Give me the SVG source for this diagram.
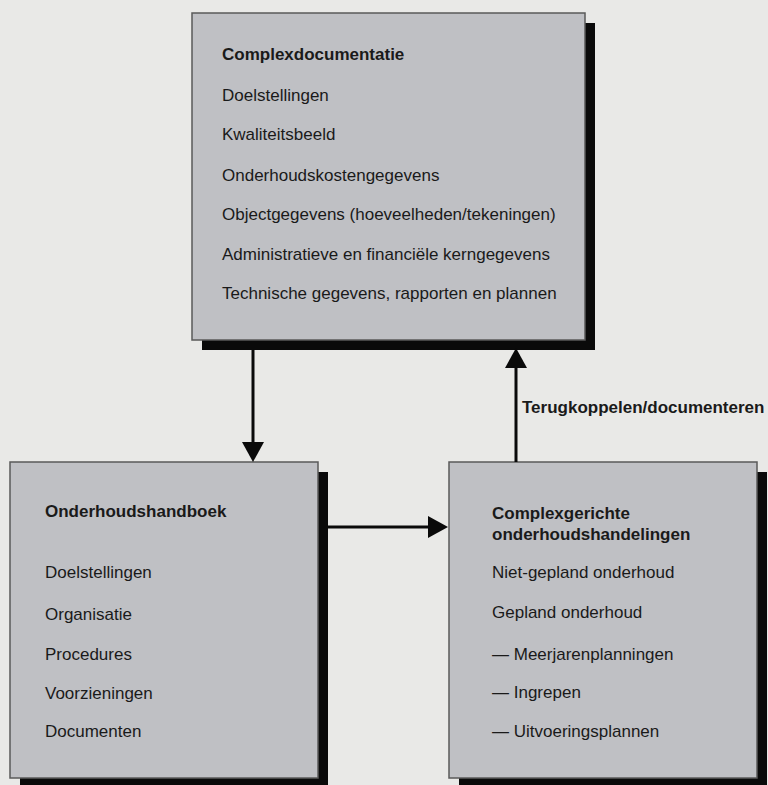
<svg xmlns="http://www.w3.org/2000/svg" width="768" height="785" viewBox="0 0 768 785">
<style>
.shadow{fill:#0a0a0a}
.box{fill:#bfc0c4;stroke:#5a5a5a;stroke-width:1.5}
text{font-family:"Liberation Sans",Arial,Helvetica,sans-serif;font-size:17px;fill:#1a1a1a}
.title{font-weight:bold}
.conn{stroke:#0a0a0a;stroke-width:3;fill:none;marker-end:url(#ah)}
</style>
<defs>
<marker id="ah" markerUnits="userSpaceOnUse" markerWidth="20" markerHeight="22" refX="8" refY="11" orient="auto">
<path d="M0,0 L20,11 L0,22 z" fill="#0a0a0a"/>
</marker>
</defs>
<rect x="0" y="0" width="768" height="785" fill="#e9e9e7"/>
<g id="complexdocumentatie">
<rect class="shadow" x="202" y="23" width="393" height="327"/>
<rect class="box" x="192" y="13" width="393" height="327"/>
<text class="title" x="222" y="60">Complexdocumentatie</text>
<text x="222" y="101">Doelstellingen</text>
<text x="222" y="140">Kwaliteitsbeeld</text>
<text x="222" y="181">Onderhoudskostengegevens</text>
<text x="222" y="220">Objectgegevens (hoeveelheden/tekeningen)</text>
<text x="222" y="260">Administratieve en financiële kerngegevens</text>
<text x="222" y="299">Technische gegevens, rapporten en plannen</text>
</g>
<g id="onderhoudshandboek">
<rect class="shadow" x="20" y="472" width="308" height="320"/>
<rect class="box" x="10" y="462" width="308" height="316"/>
<text class="title" x="45" y="517">Onderhoudshandboek</text>
<text x="45" y="578">Doelstellingen</text>
<text x="45" y="620">Organisatie</text>
<text x="45" y="660">Procedures</text>
<text x="45" y="699">Voorzieningen</text>
<text x="45" y="737">Documenten</text>
</g>
<g id="complexgerichte">
<rect class="shadow" x="459" y="472" width="308" height="320"/>
<rect class="box" x="449" y="462" width="308" height="316"/>
<text class="title" x="492" y="519">Complexgerichte</text>
<text class="title" x="492" y="540">onderhoudshandelingen</text>
<text x="492" y="578">Niet-gepland onderhoud</text>
<text x="492" y="618">Gepland onderhoud</text>
<text x="492" y="660">— Meerjarenplanningen</text>
<text x="492" y="698">— Ingrepen</text>
<text x="492" y="737">— Uitvoeringsplannen</text>
</g>
<g id="connectors">
<line class="conn" x1="253" y1="350" x2="253" y2="450"/>
<line class="conn" x1="516" y1="462" x2="516" y2="360"/>
<line class="conn" x1="328" y1="527" x2="436" y2="527"/>
<text class="title" x="522" y="413">Terugkoppelen/documenteren</text>
</g>
</svg>
